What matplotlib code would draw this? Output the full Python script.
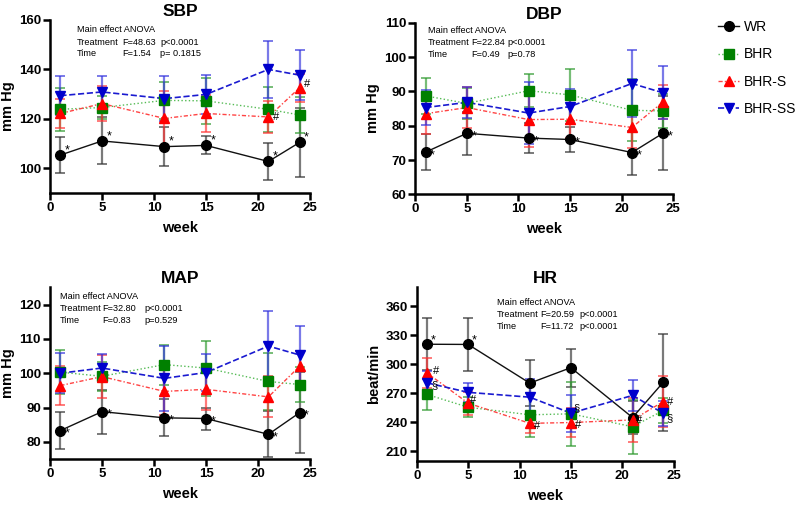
import matplotlib
matplotlib.use("Agg")
import matplotlib.pyplot as plt
from matplotlib.lines import Line2D

plt.rcParams["font.family"] = ["Liberation Sans", "DejaVu Sans"]

weeks = [1, 5, 11, 15, 21, 24]
groups = ["WR", "BHR", "BHR-S", "BHR-SS"]

# SBP (mm Hg), mean and SD
sbp_wr = [105.3, 111.0, 108.7, 109.2, 102.7, 110.4]
sbp_wr_sd = [7.3, 9.5, 7.8, 3.6, 7.3, 14.0]
sbp_bhr = [123.8, 124.5, 127.4, 127.2, 123.8, 121.5]
sbp_bhr_sd = [8.6, 4.5, 7.4, 9.3, 9.0, 7.4]
sbp_bhrs = [122.1, 126.1, 120.1, 122.1, 120.7, 132.5]
sbp_bhrs_sd = [6.0, 7.0, 11.0, 7.6, 6.5, 5.6]
sbp_bhrss = [129.3, 130.8, 128.1, 129.8, 139.9, 137.6]
sbp_bhrss_sd = [7.8, 6.6, 9.0, 7.8, 11.6, 10.0]

# DBP
dbp_wr = [72.3, 77.8, 76.4, 76.0, 72.2, 77.8]
dbp_wr_sd = [5.2, 6.2, 4.4, 3.6, 6.4, 10.8]
dbp_bhr = [88.7, 86.5, 90.2, 89.0, 84.5, 84.3]
dbp_bhr_sd = [5.3, 4.5, 4.8, 7.6, 9.0, 5.0]
dbp_bhrs = [83.5, 85.3, 81.8, 81.9, 79.5, 86.9]
dbp_bhrs_sd = [6.0, 6.0, 8.0, 5.5, 6.0, 5.0]
dbp_bhrss = [85.3, 86.8, 83.7, 85.6, 92.3, 89.6]
dbp_bhrss_sd = [5.0, 4.5, 9.0, 5.0, 9.7, 7.7]

# MAP
map_wr = [83.3, 88.8, 87.0, 86.8, 82.2, 88.5]
map_wr_sd = [5.4, 6.4, 5.4, 3.2, 6.7, 11.8]
map_bhr = [100.3, 99.1, 102.5, 101.5, 97.6, 96.7]
map_bhr_sd = [6.5, 4.2, 5.8, 8.0, 8.4, 5.0]
map_bhrs = [96.4, 99.0, 94.7, 95.3, 93.1, 102.0]
map_bhrs_sd = [5.8, 6.2, 7.0, 6.0, 6.0, 4.5]
map_bhrss = [100.0, 101.5, 98.5, 100.2, 107.9, 105.3]
map_bhrss_sd = [5.9, 4.2, 9.5, 5.5, 10.3, 8.4]

# HR (beat/min)
hr_wr = [320.7, 320.5, 280.5, 296.5, 245.0, 281.5]
hr_wr_sd = [27.0, 27.5, 24.0, 19.5, 17.0, 50.0]
hr_bhr = [268.8, 255.6, 247.8, 248.8, 235.5, 252.3]
hr_bhr_sd = [16.0, 10.5, 22.5, 33.0, 28.0, 13.0]
hr_bhrs = [291.0, 259.8, 239.0, 239.8, 242.5, 261.5]
hr_bhrs_sd = [15.0, 12.0, 10.0, 15.0, 23.0, 26.0]
hr_bhrss = [280.8, 271.0, 266.0, 249.5, 267.8, 249.3]
hr_bhrss_sd = [12.0, 9.7, 19.0, 19.0, 16.4, 13.0]

styles = {
    "WR": dict(color="black", ecolor="#333333", ls="-", marker="o", lw=1.0),
    "BHR": dict(color="#008000", ecolor="#2e9a2e", ls=":", marker="s", lw=1.0),
    "BHR-S": dict(color="#ff0000", ecolor="#ff3333", ls=(0, (3, 1.5, 1, 1.5)), marker="^", lw=1.0),
    "BHR-SS": dict(color="#0000cc", ecolor="#3333dd", ls="--", marker="v", lw=1.2),
}
line_colors = {"WR": "#111111", "BHR": "#55bb55", "BHR-S": "#ff4444", "BHR-SS": "#1a1ad0"}

fig = plt.figure(figsize=(8, 5.05), dpi=100)
TXT = 6.6


def panel(rect, title, ylabel, ylim, yticks, data, anova, txt_x, txt_y, marks):
    ax = fig.add_axes(rect)
    for g in groups:
        vals, sd = data[g]
        st = styles[g]
        ax.errorbar(weeks, vals, yerr=sd, fmt="none", ecolor=st["ecolor"], alpha=0.65,
                    elinewidth=1.6, capsize=3.5, capthick=1.4, zorder=2)
        ax.plot(weeks, vals, ls=st["ls"], color=line_colors[g], lw=st["lw"], zorder=3)
        ax.plot(weeks, vals, ls="none", marker=st["marker"], ms=7, color=st["color"],
                mec=st["color"], zorder=4)
    for g, i, sym, dx, dy in marks:
        ax.annotate(sym, (weeks[i], data[g][0][i]), xytext=(dx, dy), textcoords="offset pixels",
                    ha="center", va="center", fontsize=9 if sym == "*" else 8, zorder=5)
    ax.set_xlim(0, 25)
    ax.set_ylim(*ylim)
    ax.set_xticks([0, 5, 10, 15, 20, 25])
    ax.set_yticks(yticks)
    for s in ("top", "right"):
        ax.spines[s].set_visible(False)
    for s in ("left", "bottom"):
        ax.spines[s].set_linewidth(1.8)
    ax.tick_params(width=1.8, length=5, labelsize=9.5, pad=1.5)
    for lab in ax.get_xticklabels() + ax.get_yticklabels():
        lab.set_fontweight("bold")
    ax.set_title(title, fontsize=12.5, fontweight="bold", pad=3)
    ax.set_xlabel("week", fontsize=10.5, fontweight="bold", labelpad=5)
    ax.set_ylabel(ylabel, fontsize=10.5, fontweight="bold", labelpad=3)
    ax.text(txt_x[0], txt_y[0], "Main effect ANOVA", transform=ax.transAxes, fontsize=TXT,
            va="center")
    for row, (name, f, p) in enumerate(anova, start=1):
        for col, s in enumerate((name, f, p)):
            ax.text(txt_x[col], txt_y[row], s, transform=ax.transAxes, fontsize=TXT, va="center")
    return ax


def star(idx, dx, dy):
    return [("WR", i, "*", dx, dy) for i in idx]


ax1 = panel([0.0625, 0.618, 0.325, 0.343], "SBP", "mm Hg", (90, 160), [100, 120, 140, 160],
            {"WR": (sbp_wr, sbp_wr_sd), "BHR": (sbp_bhr, sbp_bhr_sd),
             "BHR-S": (sbp_bhrs, sbp_bhrs_sd), "BHR-SS": (sbp_bhrss, sbp_bhrss_sd)},
            [("Treatment", "F=48.63", "p<0.0001"), ("Time", "F=1.54", "p= 0.1815")],
            (0.104, 0.276, 0.425), (0.942, 0.871, 0.803),
            star(range(6), 7, 5) + [("BHR-S", 4, "#", 8, 0), ("BHR-S", 5, "#", 7, 4)])

ax2 = panel([0.519, 0.615, 0.3225, 0.34], "DBP", "mm Hg", (60, 110), [60, 70, 80, 90, 100, 110],
            {"WR": (dbp_wr, dbp_wr_sd), "BHR": (dbp_bhr, dbp_bhr_sd),
             "BHR-S": (dbp_bhrs, dbp_bhrs_sd), "BHR-SS": (dbp_bhrss, dbp_bhrss_sd)},
            [("Treatment", "F=22.84", "p<0.0001"), ("Time", "F=0.49", "p=0.78")],
            (0.049, 0.218, 0.357), (0.953, 0.883, 0.816),
            star(range(6), 7, -3))

ax3 = panel([0.0625, 0.091, 0.325, 0.34], "MAP", "mm Hg", (75, 125), [80, 90, 100, 110, 120],
            {"WR": (map_wr, map_wr_sd), "BHR": (map_bhr, map_bhr_sd),
             "BHR-S": (map_bhrs, map_bhrs_sd), "BHR-SS": (map_bhrss, map_bhrss_sd)},
            [("Treatment", "F=32.80", "p<0.0001"), ("Time", "F=0.83", "p=0.529")],
            (0.038, 0.202, 0.365), (0.949, 0.874, 0.807),
            star(range(6), 7, -3))

ax4 = panel([0.521, 0.087, 0.321, 0.345], "HR", "beat/min", (200, 380), [210, 240, 270, 300, 330, 360],
            {"WR": (hr_wr, hr_wr_sd), "BHR": (hr_bhr, hr_bhr_sd),
             "BHR-S": (hr_bhrs, hr_bhrs_sd), "BHR-SS": (hr_bhrss, hr_bhrss_sd)},
            [("Treatment", "F=20.59", "p<0.0001"), ("Time", "F=11.72", "p<0.0001")],
            (0.312, 0.479, 0.634), (0.910, 0.843, 0.772),
            star([0, 1], 6, 4) + [("BHR-S", 0, "#", 9, 2), ("BHR-SS", 0, "§", 7, -2),
                                  ("BHR-S", 1, "#", 5, 3), ("BHR-S", 2, "#", 7, -3),
                                  ("BHR-S", 3, "#", 7, -2), ("BHR-SS", 3, "§", 6, 5),
                                  ("BHR-S", 4, "#", 7, 0), ("BHR-S", 5, "#", 7, 0),
                                  ("BHR-SS", 5, "§", 6, -5)])

handles = [Line2D([], [], ls=styles[g]["ls"], color=line_colors[g], lw=styles[g]["lw"],
                  marker=styles[g]["marker"], ms=7, mfc=styles[g]["color"], mec=styles[g]["color"])
           for g in groups]
fig.legend(handles, groups, loc="upper left", bbox_to_anchor=(0.898, 0.96), frameon=False,
           fontsize=10, handlelength=1.5, handletextpad=0.35, labelspacing=0.95, borderpad=0,
           borderaxespad=0)

fig.savefig("out.png", dpi=100)
